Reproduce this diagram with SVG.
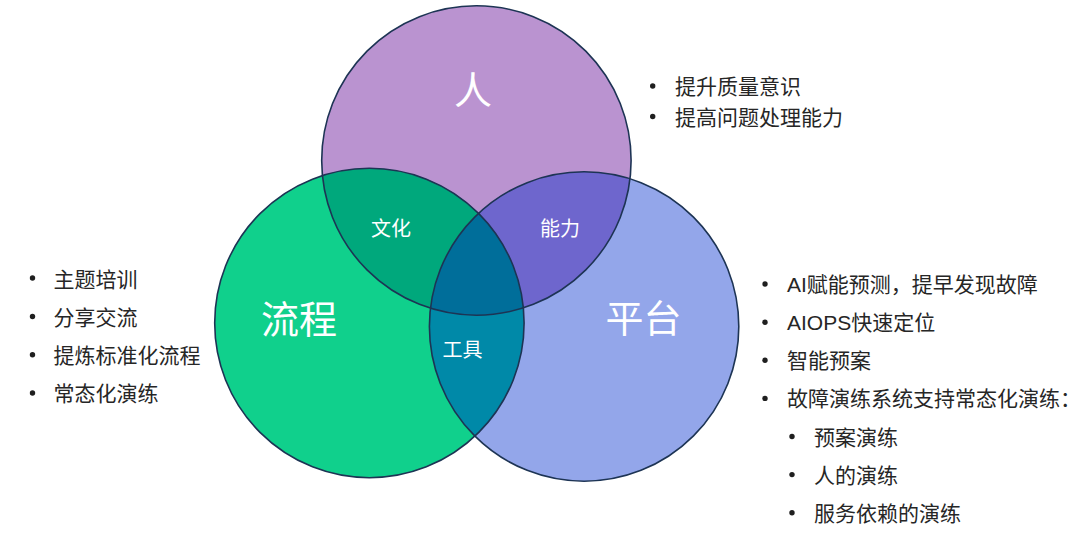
<svg xmlns="http://www.w3.org/2000/svg" width="1080" height="536" viewBox="0 0 1080 536">
<style>
.big{font-family:"Noto Sans CJK SC","Liberation Sans",sans-serif;font-size:38px;fill:#ffffff;text-anchor:middle}
.mid{font-family:"Noto Sans CJK SC","Liberation Sans",sans-serif;font-size:20px;fill:#ffffff;text-anchor:middle}
.li{font-family:"Liberation Sans","Noto Sans CJK SC",sans-serif;font-size:21px;fill:#262626}
.dot{fill:#1f1f1f}
.ring{fill:none;stroke:#1d3454;stroke-width:1.6}
</style>
<defs>
<clipPath id="cT"><circle cx="476.4" cy="160.5" r="154.7"/></clipPath>
<clipPath id="cL"><circle cx="369.4" cy="323" r="154.7"/></clipPath>
<clipPath id="cR"><circle cx="584.1" cy="326.5" r="154.7"/></clipPath>
</defs>
<rect width="1080" height="536" fill="#ffffff"/>
<g id="venn">
<g id="node-people"><circle cx="476.4" cy="160.5" r="154.7" fill="#ba93d0"/></g>
<g id="node-process"><circle cx="369.4" cy="323" r="154.7" fill="#10d08c"/></g>
<g id="node-platform"><circle cx="584.1" cy="326.5" r="154.7" fill="#93a6ea"/></g>
<g id="overlap-culture"><circle cx="369.4" cy="323" r="154.7" fill="#00a87c" clip-path="url(#cT)"/></g>
<g id="overlap-ability"><circle cx="584.1" cy="326.5" r="154.7" fill="#6e66cd" clip-path="url(#cT)"/></g>
<g id="overlap-tools"><circle cx="584.1" cy="326.5" r="154.7" fill="#0089a8" clip-path="url(#cL)"/></g>
<g id="overlap-center" clip-path="url(#cT)"><circle cx="584.1" cy="326.5" r="154.7" fill="#006e9a" clip-path="url(#cL)"/></g>
</g>
<g id="outlines">
<circle class="ring" cx="476.4" cy="160.5" r="154.7"/>
<circle class="ring" cx="369.4" cy="323" r="154.7"/>
<circle class="ring" cx="584.1" cy="326.5" r="154.7"/>
</g>
<g id="labels">
<text class="big" x="473" y="103.5">人</text>
<text class="big" x="299" y="332.5">流程</text>
<text class="big" x="643.5" y="332">平台</text>
<text class="mid" x="391" y="236">文化</text>
<text class="mid" x="560" y="236">能力</text>
<text class="mid" x="462.5" y="356.6">工具</text>
</g>
<g id="list-people">
<circle class="dot" cx="652.7" cy="86" r="2.7"/>
<text class="li" x="675" y="94">提升质量意识</text>
<circle class="dot" cx="652.7" cy="116.5" r="2.7"/>
<text class="li" x="675" y="124.5">提高问题处理能力</text>
</g>
<g id="list-process">
<circle class="dot" cx="32.5" cy="278" r="2.7"/>
<text class="li" x="53.5" y="286.5">主题培训</text>
<circle class="dot" cx="32.5" cy="316.5" r="2.7"/>
<text class="li" x="53.5" y="325">分享交流</text>
<circle class="dot" cx="32.5" cy="354.8" r="2.7"/>
<text class="li" x="53.5" y="363.2">提炼标准化流程</text>
<circle class="dot" cx="32.5" cy="393" r="2.7"/>
<text class="li" x="53.5" y="401.4">常态化演练</text>
</g>
<g id="list-platform">
<circle class="dot" cx="765" cy="284" r="2.7"/>
<text class="li" x="787" y="292">AI赋能预测，提早发现故障</text>
<circle class="dot" cx="765" cy="322.2" r="2.7"/>
<text class="li" x="787" y="330.2">AIOPS快速定位</text>
<circle class="dot" cx="765" cy="360.3" r="2.7"/>
<text class="li" x="787" y="368.3">智能预案</text>
<circle class="dot" cx="765" cy="398.4" r="2.7"/>
<text class="li" x="787" y="406.4">故障演练系统支持常态化演练：</text>
<circle class="dot" cx="792" cy="436.5" r="2.7"/>
<text class="li" x="814" y="444.5">预案演练</text>
<circle class="dot" cx="792" cy="474.6" r="2.7"/>
<text class="li" x="814" y="482.6">人的演练</text>
<circle class="dot" cx="792" cy="512.7" r="2.7"/>
<text class="li" x="814" y="520.7">服务依赖的演练</text>
</g>
</svg>
